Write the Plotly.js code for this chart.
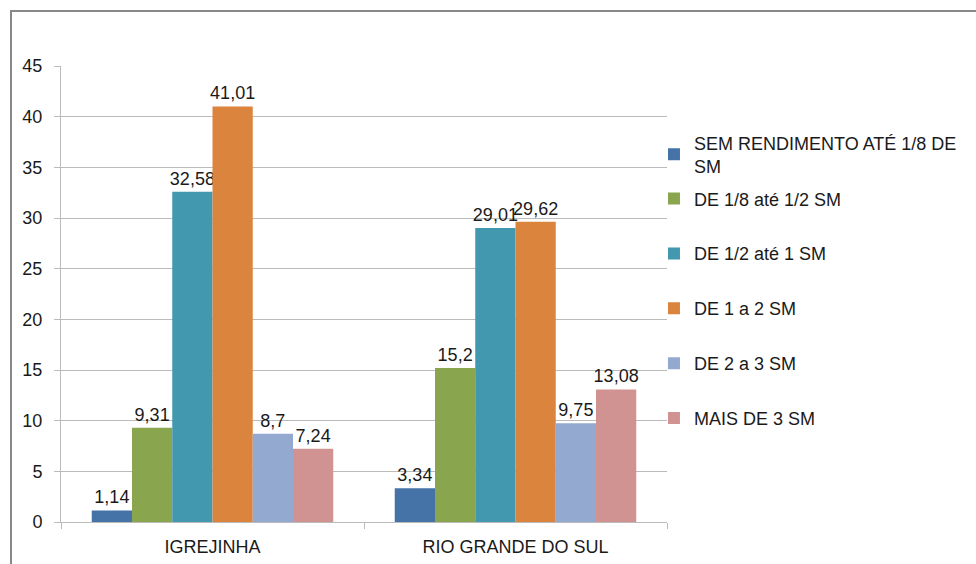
<!DOCTYPE html>
<html>
<head>
<meta charset="utf-8">
<script src="https://cdn.plot.ly/plotly-3.0.1.min.js"></script>
<style>
html,body{margin:0;padding:0;background:#fff;}
#chart{width:976px;height:564px;}
</style>
</head>
<body>
<div id="chart"></div>
<script>
const categories = ["IGREJINHA", "RIO GRANDE DO SUL"];
const seriesNames = [
  "SEM RENDIMENTO ATÉ 1/8 DE<br>SM",
  "DE 1/8 até 1/2 SM",
  "DE 1/2 até 1 SM",
  "DE 1 a 2 SM",
  "DE 2 a 3 SM",
  "MAIS DE 3 SM"
];
const semRendimento = [1.14, 3.34];
const de18a12 = [9.31, 15.2];
const de12a1 = [32.58, 29.01];
const de1a2 = [41.01, 29.62];
const de2a3 = [8.7, 9.75];
const mais3 = [7.24, 13.08];
const seriesValues = [semRendimento, de18a12, de12a1, de1a2, de2a3, mais3];
const colors = ["#4572A7", "#89A54E", "#4198AF", "#DB843D", "#93A9CF", "#D19392"];
const yTicks = [0, 5, 10, 15, 20, 25, 30, 35, 40, 45];

const font = "Liberation Sans, Arial, sans-serif";
const txtColor = "#1a1a1a";
const traces = seriesValues.map((vals, i) => ({
  type: "bar",
  name: seriesNames[i],
  x: categories,
  y: vals,
  marker: {color: colors[i]},
  texttemplate: "%{y}",
  textposition: "outside",
  constraintext: "none",
  cliponaxis: false,
  textfont: {family: font, size: 18, color: txtColor},
  legend: i === 0 ? "legend" : "legend2",
  legendgroup: "g" + i,
  hoverinfo: "name+y"
}));

const legendCommon = {
  x: 0.9785, xanchor: "left",
  yanchor: "top",
  traceorder: "grouped",
  tracegroupgap: 28.5,
  font: {family: font, size: 18, color: txtColor},
  itemwidth: 30,
  bgcolor: "rgba(0,0,0,0)"
};

const layout = {
  width: 976,
  height: 564,
  separators: ",.",
  barmode: "group",
  bargap: 0.203,
  bargroupgap: 0,
  margin: {l: 61, r: 309, t: 66, b: 42, pad: 0},
  paper_bgcolor: "#fff",
  plot_bgcolor: "#fff",
  font: {family: font, size: 18, color: txtColor},
  showlegend: true,
  legend: Object.assign({}, legendCommon, {y: 0.872}),
  legend2: Object.assign({}, legendCommon, {y: 0.7493}),
  xaxis: {
    type: "category",
    showline: true,
    linecolor: "#BBBBBB",
    linewidth: 1,
    ticks: "outside",
    tickson: "boundaries",
    ticklen: 6,
    tickcolor: "#BBBBBB",
    ticklabelstandoff: 8,
    tickfont: {family: font, size: 18, color: txtColor},
    showgrid: false
  },
  yaxis: {
    range: [0, 45],
    tickvals: yTicks,
    ticks: "outside",
    ticklen: 6,
    tickcolor: "#BBBBBB",
    ticklabelstandoff: 8,
    showline: true,
    linecolor: "#BBBBBB",
    linewidth: 1,
    showgrid: true,
    gridcolor: "#BBBBBB",
    gridwidth: 1,
    zeroline: false,
    tickfont: {family: font, size: 18, color: txtColor}
  },
  shapes: [{
    type: "rect",
    xref: "paper", yref: "paper",
    x0: -0.0825, x1: 1.6,
    y0: -0.12, y1: 1.1206,
    line: {color: "#888888", width: 2},
    fillcolor: "rgba(0,0,0,0)",
    layer: "below"
  }]
};

Plotly.newPlot("chart", traces, layout, {displayModeBar: false, staticPlot: true});
</script>
</body>
</html>
